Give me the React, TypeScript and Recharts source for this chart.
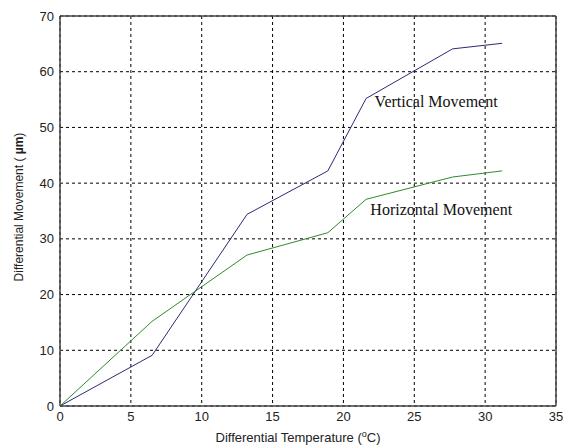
import React from 'react';
import {
  LineChart,
  Line,
  XAxis,
  YAxis,
  CartesianGrid,
  ReferenceLine,
  ReferenceDot,
  Label,
} from 'recharts';

const verticalX = [0, 6.5, 13.2, 18.9, 21.6, 27.7, 31.2];
const verticalY = [0, 9.1, 34.4, 42.2, 55.2, 64.1, 65.1];
const horizontalX = [0, 6.5, 13.2, 18.9, 21.6, 27.7, 31.2];
const horizontalY = [0, 15.2, 27.1, 31.1, 37.1, 41.1, 42.2];
const xTicks = [0, 5, 10, 15, 20, 25, 30, 35];
const yTicks = [0, 10, 20, 30, 40, 50, 60, 70];

const verticalData = verticalX.map((x, i) => ({ x, y: verticalY[i] }));
const horizontalData = horizontalX.map((x, i) => ({ x, y: horizontalY[i] }));

const tickStyle = { fontSize: 13, fill: '#222', fontFamily: 'Arial, "Liberation Sans", sans-serif' };

function NoteLabel({ viewBox, text }: any) {
  const { x, y } = viewBox;
  return (
    <text x={x} y={y} fontSize={16} fontFamily='"Times New Roman", "Liberation Serif", serif' fill="#111">
      {text}
    </text>
  );
}

function XTitle({ viewBox }: any) {
  const { x, y, width } = viewBox;
  return (
    <text
      x={x + width / 2 - 10}
      y={y + 36}
      textAnchor="middle"
      fontSize={13}
      fontFamily='Arial, "Liberation Sans", sans-serif'
      fill="#222"
    >
      Differential Temperature (
      <tspan fontSize={9} dy={-5}>o</tspan>
      <tspan dy={5}>C)</tspan>
    </text>
  );
}

function YTitle() {
  return (
    <text
      x={19}
      y={207}
      transform="rotate(-90 19 207)"
      textAnchor="middle"
      dominantBaseline="central"
      fontSize={12}
      fontFamily='Arial, "Liberation Sans", sans-serif'
      fill="#222"
    >
      Differential Movement ( <tspan fontWeight="bold">µm</tspan>)
    </text>
  );
}

export default function App() {
  return (
    <div style={{ position: 'absolute', left: 0, top: 0, width: 569, height: 448, background: '#fff' }}>
      <LineChart width={569} height={448} margin={{ top: 16, right: 13, bottom: 0, left: 0 }}>
        <CartesianGrid stroke="#000" strokeDasharray="3 3" strokeWidth={1} />
        <XAxis
          type="number"
          dataKey="x"
          domain={[0, 35]}
          ticks={xTicks}
          height={42}
          tickSize={0}
          tickMargin={6}
          tick={tickStyle}
          axisLine={{ stroke: '#444', strokeWidth: 1.5 }}
          allowDataOverflow
        >
          <Label content={<XTitle />} />
        </XAxis>
        <YAxis
          type="number"
          dataKey="y"
          domain={[0, 70]}
          ticks={yTicks}
          width={60}
          tickSize={0}
          tickMargin={6}
          tick={tickStyle}
          axisLine={{ stroke: '#444', strokeWidth: 1.5 }}
          allowDataOverflow
        >
          <Label content={<YTitle />} />
        </YAxis>
        <ReferenceLine y={70} stroke="#444" strokeWidth={1.5} />
        <ReferenceLine x={35} stroke="#444" strokeWidth={1.5} />
        <Line
          data={verticalData}
          dataKey="y"
          type="linear"
          stroke="#2a2a78"
          strokeWidth={1}
          dot={false}
          isAnimationActive={false}
        />
        <Line
          data={horizontalData}
          dataKey="y"
          type="linear"
          stroke="#2f8a2f"
          strokeWidth={1}
          dot={false}
          isAnimationActive={false}
        />
        <ReferenceDot x={22.2} y={53.6} r={0} label={<NoteLabel text="Vertical Movement" />} />
        <ReferenceDot x={21.9} y={34.3} r={0} label={<NoteLabel text="Horizontal Movement" />} />
      </LineChart>
    </div>
  );
}
